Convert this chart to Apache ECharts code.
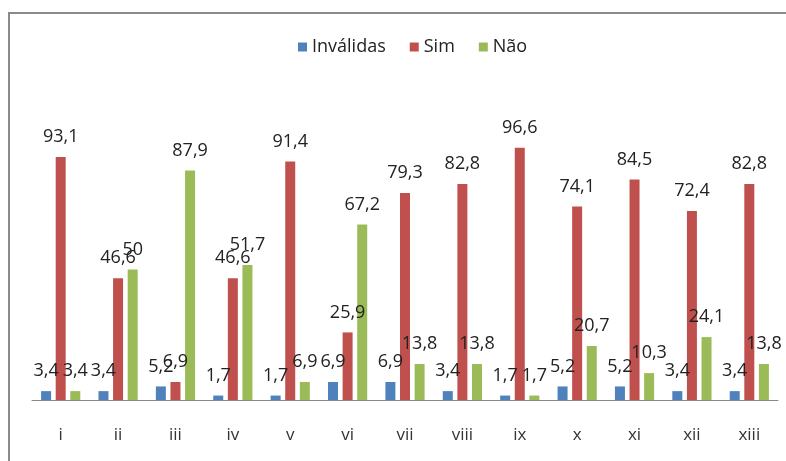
<!DOCTYPE html>
<html><head><meta charset="utf-8">
<script src="https://cdn.jsdelivr.net/npm/echarts@6/dist/echarts.min.js"></script>
<style>html,body{margin:0;padding:0;background:#fff}#c{width:786px;height:461px}</style>
</head><body><div id="c"></div>
<script>
const categories = ['i','ii','iii','iv','v','vi','vii','viii','ix','x','xi','xii','xiii'];
const invalidas = [3.4,3.4,5.2,1.7,1.7,6.9,6.9,3.4,1.7,5.2,5.2,3.4,3.4];
const sim = [93.1,46.6,6.9,46.6,91.4,25.9,79.3,82.8,96.6,74.1,84.5,72.4,82.8];
const nao = [3.4,50,87.9,51.7,6.9,67.2,13.8,13.8,1.7,20.7,10.3,24.1,13.8];
const seriesNames = ['Inválidas','Sim','Não'];
const colors = ['#4F81BD','#C0504D','#9BBB59'];

const chart = echarts.init(document.getElementById('c'), null, {renderer:'canvas'});
const fmt = p => String(p.value).replace('.', ',');
const mk = (name, data, color) => ({
  name, type:'bar', data, barWidth:10, barGap:'46%', barCategoryGap:'32%',
  itemStyle:{color},
  label:{show:true, position:'top', distance:11, formatter:fmt,
    fontFamily:'Open Sans', fontSize:18, color:'#222'}
});
chart.setOption({
  animation:false,
  backgroundColor:'#fff',
  graphic:[{type:'rect', shape:{x:9, y:13, width:800, height:470},
    style:{fill:'none', stroke:'#8a8a8a', lineWidth:2}, z:-1}],
  legend:{top:33, left:293, itemWidth:9, itemHeight:9, itemGap:24, icon:'rect',
    textStyle:{fontFamily:'Open Sans', fontSize:18, color:'#222'},
    data:seriesNames},
  grid:{left:32, right:8, top:139, bottom:61},
  xAxis:{type:'category', data:categories,
    axisLine:{lineStyle:{color:'#8a8a8a', width:1}},
    axisTick:{show:false},
    axisLabel:{margin:27, fontFamily:'Open Sans', fontSize:17, color:'#333'}},
  yAxis:{type:'value', min:0, max:100, show:false, splitLine:{show:false}},
  series:[mk(seriesNames[0], invalidas, colors[0]), mk(seriesNames[1], sim, colors[1]), mk(seriesNames[2], nao, colors[2])]
});
</script></body></html>
